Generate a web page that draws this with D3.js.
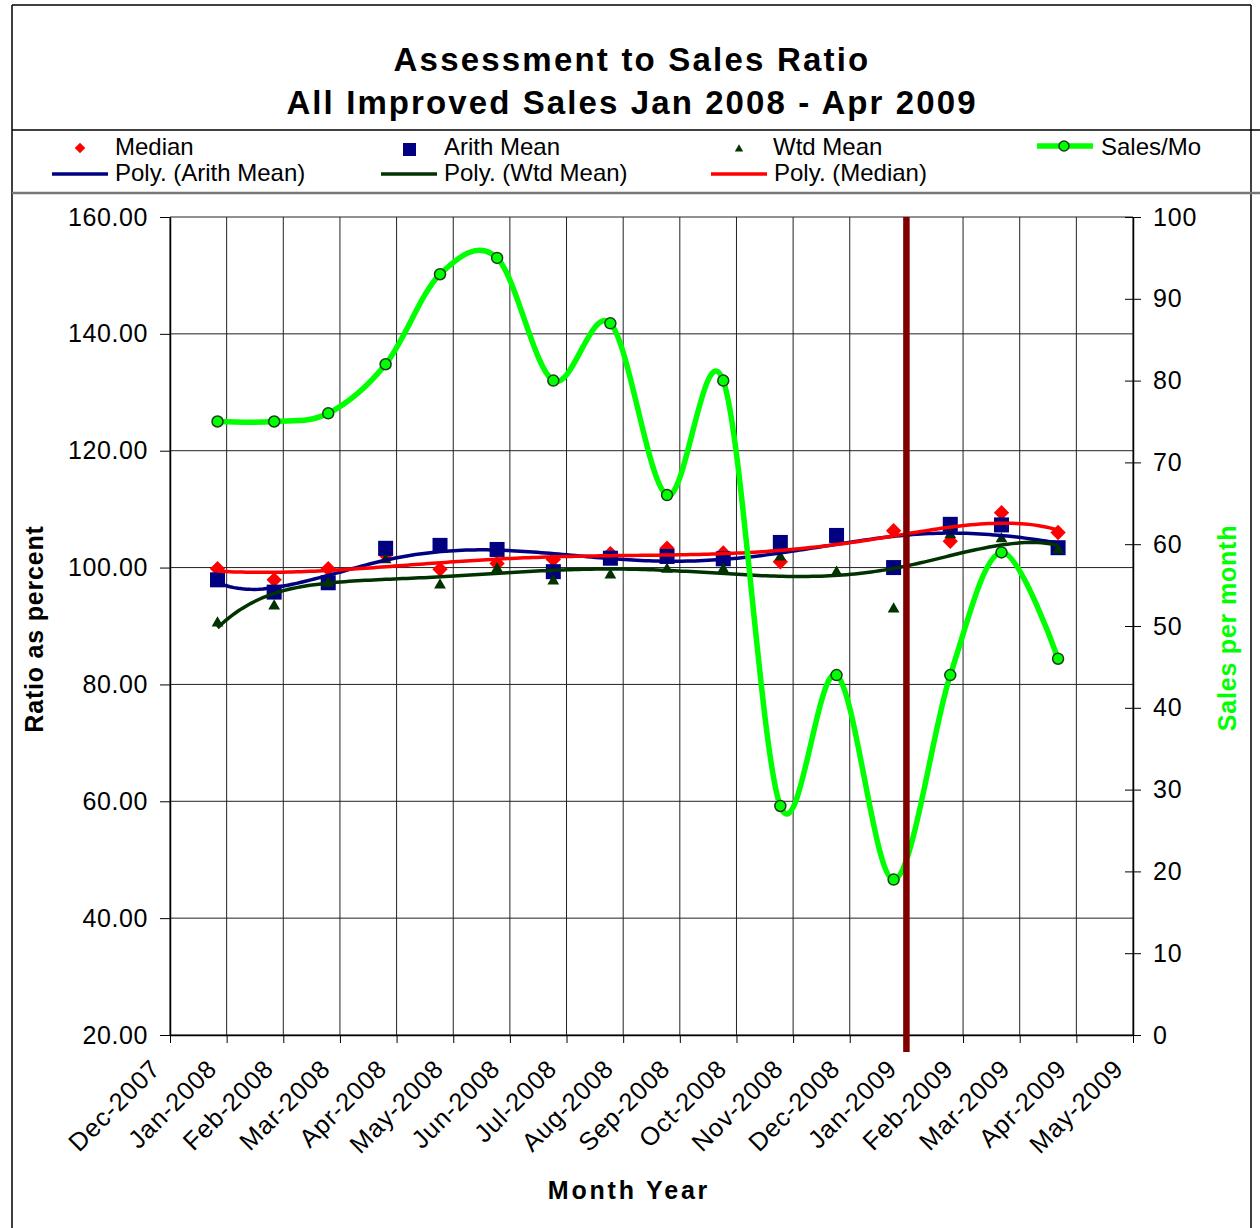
<!DOCTYPE html>
<html>
<head>
<meta charset="utf-8">
<script src="https://cdn.jsdelivr.net/npm/d3@7"></script>
<style>
  body { margin: 0; background: #fff; }
  text { font-family: "Liberation Sans", Arial, sans-serif; fill: #000; }
</style>
</head>
<body>
<div id="chart"></div>
<script>
// Month labels along the x axis
const monthLabels = ["Dec-2007", "Jan-2008", "Feb-2008", "Mar-2008", "Apr-2008", "May-2008",
    "Jun-2008", "Jul-2008", "Aug-2008", "Sep-2008", "Oct-2008", "Nov-2008", "Dec-2008",
    "Jan-2009", "Feb-2009", "Mar-2009", "Apr-2009", "May-2009"];

// Dates the monthly figures are plotted at
const sampleDates = ["2007-12-27", "2008-01-27", "2008-02-24", "2008-03-26", "2008-04-24",
    "2008-05-25", "2008-06-24", "2008-07-25", "2008-08-25", "2008-09-24", "2008-10-25",
    "2008-11-24", "2008-12-25", "2009-01-25", "2009-02-20", "2009-03-22"];

// Ratio series (left axis)
const median    = [99.8, 97.9, 99.8, 102.2, 99.7, 100.7, 101.4, 102.4, 103.3, 102.5, 101.0, 105.2, 106.3, 104.5, 109.4, 106.0];
const arithMean = [97.9, 95.8, 97.4, 103.3, 103.8, 103.1, 99.3, 101.6, 101.9, 101.5, 104.3, 105.5, 100.0, 107.4, 107.3, 103.4];
const wtdMean   = [90.5, 93.4, 97.3, 101.3, 97.0, 99.8, 97.7, 98.7, 99.7, 99.7, 101.8, 99.2, 92.9, 105.6, 104.9, 103.0];

// Sales per month (right axis)
const salesPerMonth = [75, 75, 76, 82, 93, 95, 80, 87, 66, 80, 28, 44, 19, 44, 59, 46];

// Tick values
const leftTicks = [20, 40, 60, 80, 100, 120, 140, 160];
const rightTicks = [0, 10, 20, 30, 40, 50, 60, 70, 80, 90, 100];

// Date of the dark red marker line
const markerDate = "2009-01-01";

const W = 1260, H = 1228;
const plot = {left: 170, right: 1133, top: 217, bottom: 1035};

const svg = d3.select("#chart").append("svg")
    .attr("width", W)
    .attr("height", H);

svg.append("rect").attr("width", W).attr("height", H).attr("fill", "#fff");

const parseDate = d3.utcParse("%Y-%m-%d");
const dates = sampleDates.map(parseDate);
const startMonth = new Date(Date.UTC(2007, 11, 1));

// month axis: each month gets the same width, days spread inside it
function monthPos(date) {
    const m0 = d3.utcMonth.floor(date);
    const m1 = d3.utcMonth.offset(m0, 1);
    return d3.utcMonth.count(startMonth, m0) + (date - m0) / (m1 - m0);
}

const x = d3.scaleLinear().domain([0, monthLabels.length - 1]).range([plot.left, plot.right]);
const y = d3.scaleLinear().domain([20, 160]).range([plot.bottom, plot.top]);
const y2 = d3.scaleLinear().domain([0, 100]).range([plot.bottom, plot.top]);

// Outer frame, title box and legend box
const frame = svg.append("g").attr("stroke", "#000").attr("stroke-width", 1.5);
frame.append("line").attr("x1", 12).attr("x2", 12).attr("y1", 5).attr("y2", H);
frame.append("line").attr("x1", 1251).attr("x2", 1251).attr("y1", 5).attr("y2", H);
frame.append("line").attr("x1", 12).attr("x2", 1251).attr("y1", 5).attr("y2", 5);
frame.append("line").attr("x1", 12).attr("x2", W).attr("y1", 130).attr("y2", 130);
svg.append("line").attr("x1", 12).attr("x2", W).attr("y1", 193).attr("y2", 193)
    .attr("stroke", "#777").attr("stroke-width", 2.5);

// Title
svg.append("text").attr("x", 632).attr("y", 71).attr("text-anchor", "middle")
    .style("font-size", "33px").style("font-weight", "bold").style("letter-spacing", "2.2px")
    .text("Assessment to Sales Ratio");
svg.append("text").attr("x", 632).attr("y", 114).attr("text-anchor", "middle")
    .style("font-size", "33px").style("font-weight", "bold").style("letter-spacing", "2.1px")
    .text("All Improved Sales Jan 2008 - Apr 2009");

// Gridlines
const grid = svg.append("g").attr("stroke", "#222").attr("stroke-width", 1);
grid.selectAll(".hgrid").data(leftTicks).enter().append("line")
    .attr("x1", plot.left).attr("x2", plot.right)
    .attr("y1", d => y(d)).attr("y2", d => y(d));
grid.selectAll(".vgrid").data(d3.range(monthLabels.length)).enter().append("line")
    .attr("x1", d => x(d)).attr("x2", d => x(d))
    .attr("y1", plot.top).attr("y2", plot.bottom);

// Left axis
svg.append("g")
    .attr("transform", `translate(${plot.left},0)`)
    .call(d3.axisLeft(y).tickValues(leftTicks).tickFormat(d3.format(".2f"))
        .tickSize(10).tickSizeOuter(0).tickPadding(12))
    .call(g => g.selectAll("text").style("font-size", "25px").style("letter-spacing", "0.6px"));

// Right axis (ticks cross the axis line)
svg.append("g")
    .attr("transform", `translate(${plot.right},0)`)
    .call(d3.axisRight(y2).tickValues(rightTicks).tickFormat(d3.format("d"))
        .tickSize(8).tickSizeOuter(0).tickPadding(12))
    .call(g => g.selectAll(".tick").append("line").attr("x1", -8).attr("x2", 0).attr("stroke", "#000"))
    .call(g => g.selectAll("text").style("font-size", "25px").style("letter-spacing", "0.8px"));

// Bottom axis with rotated month labels
svg.append("g")
    .attr("transform", `translate(0,${plot.bottom})`)
    .call(d3.axisBottom(x).tickValues(d3.range(monthLabels.length))
        .tickFormat(i => monthLabels[i]).tickSize(8).tickSizeOuter(0))
    .call(g => g.selectAll("text")
        .attr("x", 0).attr("y", 0).attr("dy", "0.35em")
        .attr("transform", "translate(-15,29) rotate(-45)")
        .style("text-anchor", "end")
        .style("font-size", "25.5px").style("letter-spacing", "0.8px"));

svg.selectAll(".domain").attr("stroke", "#000").attr("stroke-width", 1.5);
svg.selectAll(".tick line").attr("stroke", "#000");

// Axis titles
svg.append("text").attr("transform", "translate(43,629) rotate(-90)")
    .attr("text-anchor", "middle")
    .style("font-size", "25px").style("font-weight", "bold").style("letter-spacing", "0.8px")
    .text("Ratio as percent");
svg.append("text").attr("transform", "translate(1236,628) rotate(-90)")
    .attr("text-anchor", "middle")
    .style("font-size", "25px").style("font-weight", "bold").style("letter-spacing", "0.8px")
    .style("fill", "#00ff00")
    .text("Sales per month");
svg.append("text").attr("x", 629).attr("y", 1199).attr("text-anchor", "middle")
    .style("font-size", "25px").style("font-weight", "bold").style("letter-spacing", "2.8px")
    .text("Month Year");

// least squares polynomial fit (Excel style "Poly." trendline)
function polyFit(xs, ys, order) {
    const n = order + 1;
    const A = Array.from({length: n}, () => new Array(n + 1).fill(0));
    xs.forEach((xv, k) => {
        for (let i = 0; i < n; i++) {
            for (let j = 0; j < n; j++) A[i][j] += Math.pow(xv, i + j);
            A[i][n] += Math.pow(xv, i) * ys[k];
        }
    });
    for (let c = 0; c < n; c++) {
        let p = c;
        for (let r = c + 1; r < n; r++) if (Math.abs(A[r][c]) > Math.abs(A[p][c])) p = r;
        [A[c], A[p]] = [A[p], A[c]];
        for (let r = 0; r < n; r++) {
            if (r === c) continue;
            const f = A[r][c] / A[c][c];
            for (let k = c; k <= n; k++) A[r][k] -= f * A[c][k];
        }
    }
    return A.map((row, i) => row[n] / row[i]);
}

const t0 = +dates[0], t1 = +dates[dates.length - 1];
const norm = d => ((+d - t0) / (t1 - t0)) * 2 - 1;

function trendPoints(values) {
    const coef = polyFit(dates.map(norm), values, 6);
    return d3.range(0, 201).map(k => {
        const d = new Date(t0 + (t1 - t0) * k / 200);
        const u = norm(d);
        return {pos: monthPos(d), v: coef.reduce((s, c, i) => s + c * Math.pow(u, i), 0)};
    });
}

const trendLine = d3.line().x(d => x(d.pos)).y(d => y(d.v));

const points = values => values.map((v, i) => ({pos: monthPos(dates[i]), v}));

// Scatter markers
svg.append("g").selectAll("path").data(points(median)).enter().append("path")
    .attr("transform", d => `translate(${x(d.pos)},${y(d.v)})`)
    .attr("d", d3.symbol(d3.symbolDiamond2, 150))
    .attr("fill", "#ff0000");

svg.append("g").selectAll("rect").data(points(arithMean)).enter().append("rect")
    .attr("x", d => x(d.pos) - 7.5).attr("y", d => y(d.v) - 7.5)
    .attr("width", 15).attr("height", 15)
    .attr("fill", "#000080");

svg.append("g").selectAll("path").data(points(wtdMean)).enter().append("path")
    .attr("transform", d => `translate(${x(d.pos)},${y(d.v)})`)
    .attr("d", d3.symbol(d3.symbolTriangle, 60))
    .attr("fill", "#003300");

// Trendlines
[[arithMean, "#000080"], [wtdMean, "#003300"], [median, "#ff0000"]].forEach(([vals, col]) => {
    svg.append("path")
        .datum(trendPoints(vals))
        .attr("fill", "none")
        .attr("stroke", col)
        .attr("stroke-width", 3.5)
        .attr("d", trendLine);
});

// Sales per month, smoothed line on the right axis
const salesPts = salesPerMonth.map((v, i) => ({pos: monthPos(dates[i]), v}));
svg.append("path")
    .datum(salesPts)
    .attr("fill", "none")
    .attr("stroke", "#00ff00")
    .attr("stroke-width", 5.5)
    .attr("stroke-linejoin", "round")
    .attr("d", d3.line().x(d => x(d.pos)).y(d => y2(d.v)).curve(d3.curveCatmullRom.alpha(0)));

svg.append("g").selectAll("circle").data(salesPts).enter().append("circle")
    .attr("cx", d => x(d.pos)).attr("cy", d => y2(d.v))
    .attr("r", 5.5)
    .attr("fill", "#00ff00")
    .attr("stroke", "#1c3d1c")
    .attr("stroke-width", 1.5);

// Dark red marker line
const mx = x(monthPos(parseDate(markerDate)));
svg.append("line")
    .attr("x1", mx).attr("x2", mx)
    .attr("y1", plot.top).attr("y2", plot.bottom + 17)
    .attr("stroke", "#800000")
    .attr("stroke-width", 6.5);

// Legend
const leg = svg.append("g").style("font-size", "24px");
leg.append("path").attr("transform", "translate(80,148)")
    .attr("d", d3.symbol(d3.symbolDiamond2, 70)).attr("fill", "#ff0000");
leg.append("text").attr("x", 115).attr("y", 155).text("Median");
leg.append("rect").attr("x", 403).attr("y", 143).attr("width", 13).attr("height", 13).attr("fill", "#000080");
leg.append("text").attr("x", 444).attr("y", 155).text("Arith Mean");
leg.append("path").attr("transform", "translate(739,149)")
    .attr("d", d3.symbol(d3.symbolTriangle, 30)).attr("fill", "#003300");
leg.append("text").attr("x", 773).attr("y", 155).text("Wtd Mean");
leg.append("line").attr("x1", 1037).attr("x2", 1093).attr("y1", 146).attr("y2", 146)
    .attr("stroke", "#00ff00").attr("stroke-width", 5.5);
leg.append("circle").attr("cx", 1064).attr("cy", 146).attr("r", 5)
    .attr("fill", "#00ff00").attr("stroke", "#1c3d1c").attr("stroke-width", 1.5);
leg.append("text").attr("x", 1101).attr("y", 155).text("Sales/Mo");

[[52, "#000080", "Poly. (Arith Mean)"], [381, "#003300", "Poly. (Wtd Mean)"], [711, "#ff0000", "Poly. (Median)"]]
    .forEach(([lx, col, label]) => {
        leg.append("line").attr("x1", lx).attr("x2", lx + 56).attr("y1", 174).attr("y2", 174)
            .attr("stroke", col).attr("stroke-width", 3.5);
        leg.append("text").attr("x", lx + 63).attr("y", 181).text(label);
    });
</script>
</body>
</html>
